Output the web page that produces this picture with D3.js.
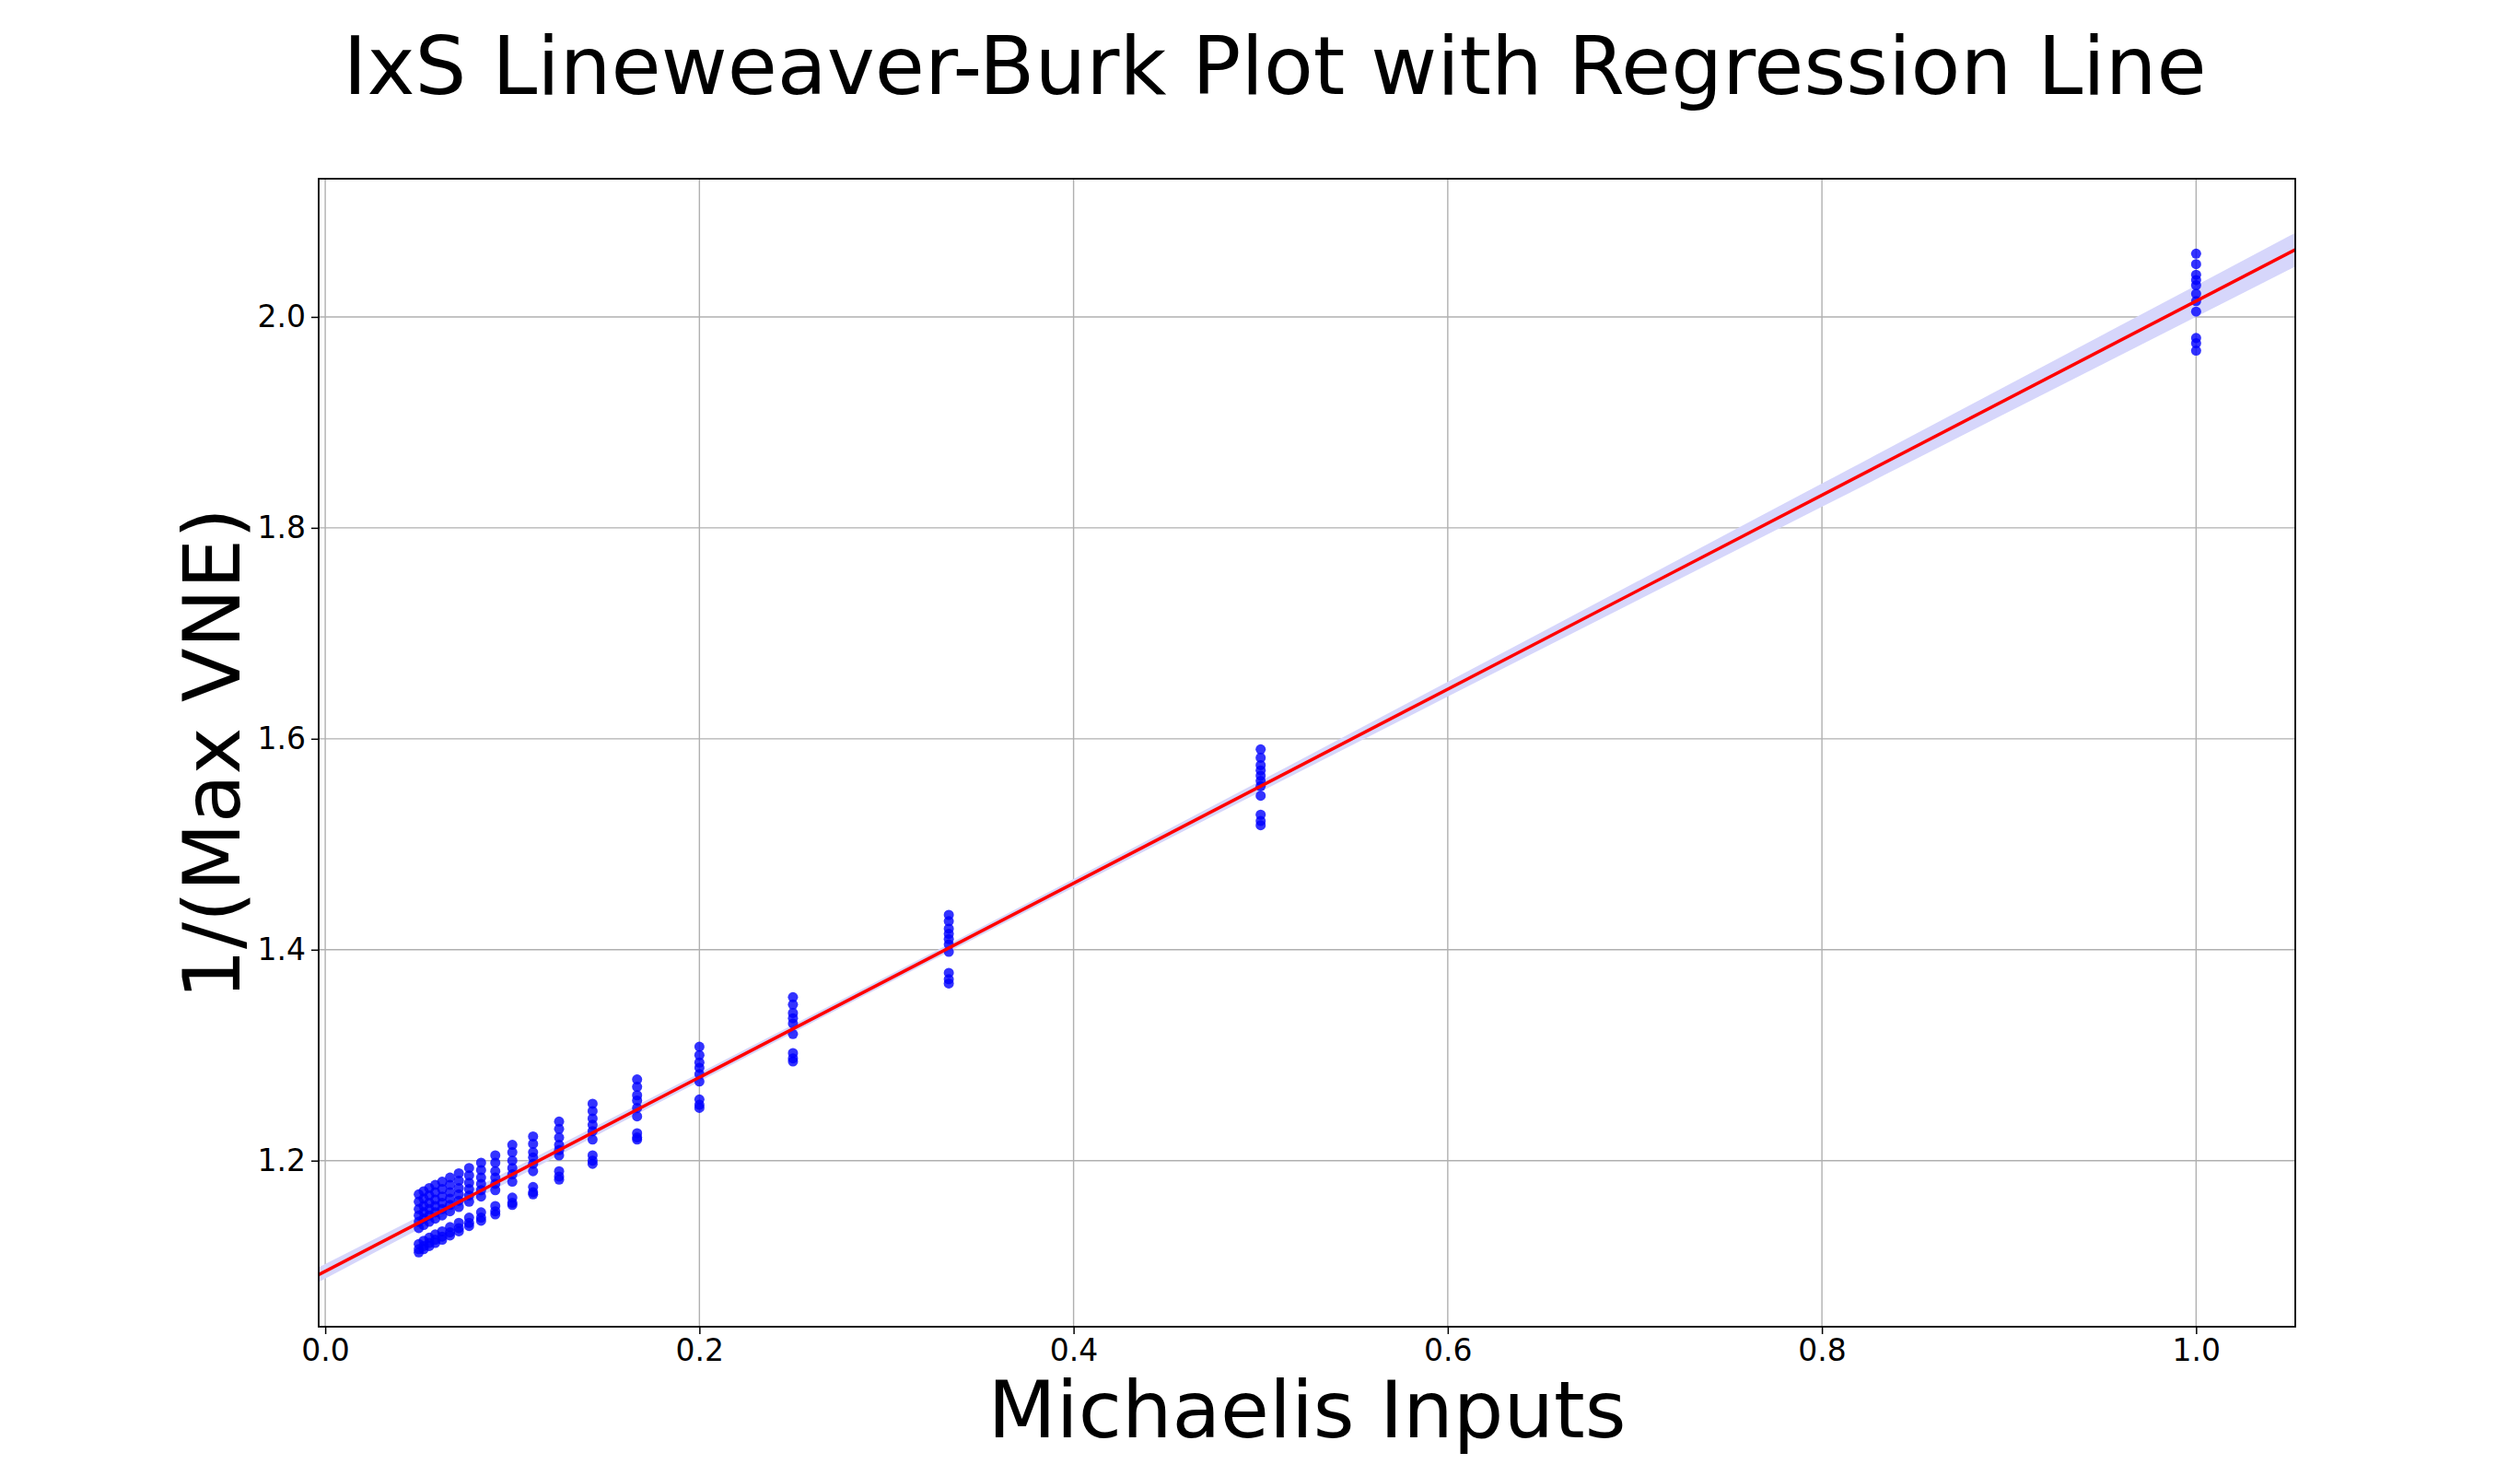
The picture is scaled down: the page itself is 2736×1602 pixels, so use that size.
<!DOCTYPE html>
<html><head><meta charset="utf-8">
<script src="https://cdn.jsdelivr.net/npm/d3@7"></script>
<style>body{margin:0;background:#fff;} text{font-family:"DejaVu Sans",sans-serif;}</style>
</head><body>
<svg id="chart" width="2736" height="1602"></svg>
<script>
// x values: 1/n for n = 1..20
var inputs= [1, 0.5, 0.3333, 0.25, 0.2, 0.1667, 0.1429, 0.125, 0.1111, 0.1, 0.0909, 0.0833, 0.0769, 0.0714, 0.0667, 0.0625, 0.0588, 0.0556, 0.0526, 0.05];
// 1/(Max VNE) observations per input
var vne= [
	[2.06, 2.05, 2.04, 2.035, 2.03, 2.022, 2.015, 2.005, 1.98, 1.975, 1.968],
	[1.59, 1.582, 1.575, 1.57, 1.565, 1.56, 1.555, 1.546, 1.528, 1.522, 1.518],
	[1.433, 1.427, 1.42, 1.415, 1.41, 1.405, 1.398, 1.378, 1.372, 1.368],
	[1.355, 1.348, 1.34, 1.335, 1.33, 1.32, 1.302, 1.297, 1.294],
	[1.308, 1.3, 1.293, 1.288, 1.282, 1.275, 1.258, 1.253, 1.25],
	[1.277, 1.27, 1.262, 1.257, 1.25, 1.242, 1.226, 1.222, 1.22],
	[1.254, 1.247, 1.24, 1.234, 1.228, 1.22, 1.205, 1.2, 1.197],
	[1.237, 1.23, 1.222, 1.215, 1.21, 1.205, 1.19, 1.185, 1.182],
	[1.223, 1.216, 1.208, 1.203, 1.197, 1.19, 1.175, 1.17, 1.168],
	[1.215, 1.208, 1.2, 1.193, 1.187, 1.18, 1.165, 1.16, 1.158],
	[1.205, 1.198, 1.19, 1.184, 1.178, 1.172, 1.157, 1.152, 1.149],
	[1.198, 1.191, 1.184, 1.178, 1.172, 1.166, 1.151, 1.146, 1.143],
	[1.193, 1.186, 1.179, 1.173, 1.167, 1.161, 1.146, 1.141, 1.138],
	[1.188, 1.181, 1.174, 1.168, 1.162, 1.156, 1.141, 1.136, 1.133],
	[1.184, 1.177, 1.17, 1.164, 1.158, 1.152, 1.137, 1.132, 1.129],
	[1.18, 1.173, 1.166, 1.16, 1.154, 1.148, 1.133, 1.128, 1.125],
	[1.177, 1.17, 1.163, 1.157, 1.151, 1.145, 1.13, 1.125, 1.122],
	[1.174, 1.167, 1.16, 1.154, 1.148, 1.142, 1.127, 1.122, 1.119],
	[1.171, 1.164, 1.157, 1.151, 1.145, 1.139, 1.124, 1.119, 1.116],
	[1.168, 1.161, 1.154, 1.148, 1.142, 1.136, 1.121, 1.116, 1.113]
];
var fit_slope= 0.92, fit_intercept= 1.095;
var band_x= [-0.004, 0.2, 0.4, 0.6, 0.8, 1.054];
var band_half= [0.007, 0.004, 0.004, 0.007, 0.011, 0.016];
var x_ticks= [0.0, 0.2, 0.4, 0.6, 0.8, 1.0];
var y_ticks= [1.2, 1.4, 1.6, 1.8, 2.0];

var plotLeft= 346, plotRight= 2492, plotTop= 194, plotBottom= 1440;
var svg= d3.select("#chart");
var xScale= d3.scaleLinear().domain([-0.0035, 1.053]).range([plotLeft, plotRight]);
var yScale= d3.scaleLinear().domain([1.0425, 2.131]).range([plotBottom, plotTop]);

svg.append("clipPath").attr("id", "clip").append("rect")
	.attr("x", plotLeft).attr("y", plotTop).attr("width", plotRight-plotLeft).attr("height", plotBottom-plotTop);

// grid
svg.append("g").selectAll("line").data(x_ticks).enter().append("line")
	.attr("x1", (d) => xScale(d)).attr("x2", (d) => xScale(d)).attr("y1", plotTop).attr("y2", plotBottom)
	.attr("stroke", "#b0b0b0").attr("stroke-width", 1.4);
svg.append("g").selectAll("line").data(y_ticks).enter().append("line")
	.attr("y1", (d) => yScale(d)).attr("y2", (d) => yScale(d)).attr("x1", plotLeft).attr("x2", plotRight)
	.attr("stroke", "#b0b0b0").attr("stroke-width", 1.4);

var plot= svg.append("g").attr("clip-path", "url(#clip)");

// confidence band
var area= d3.area()
	.x((d) => xScale(d))
	.y0((d, i) => yScale(fit_intercept+ fit_slope*d- band_half[i]))
	.y1((d, i) => yScale(fit_intercept+ fit_slope*d+ band_half[i]))
	.curve(d3.curveMonotoneX);
plot.append("path").datum(band_x).attr("d", area).attr("fill", "#d6d6fb");

// points
var points= [];
inputs.forEach((x, i) => vne[i].forEach((y) => points.push([x, y])));
plot.append("g").selectAll("circle").data(points).enter().append("circle")
	.attr("cx", (d) => xScale(d[0])).attr("cy", (d) => yScale(d[1])).attr("r", 5.5)
	.attr("fill", "#0000ff").attr("fill-opacity", 0.8);

// regression line
var line= d3.line().x((d) => xScale(d)).y((d) => yScale(fit_intercept+ fit_slope*d));
plot.append("path").datum([-0.004, 1.054]).attr("d", line)
	.attr("stroke", "#ff0000").attr("stroke-width", 3.5).attr("fill", "none");

// axes
var xAxis= svg.append("g").attr("transform", `translate(0,${plotBottom})`)
	.call(d3.axisBottom(xScale).tickValues(x_ticks).tickFormat(d3.format(".1f")).tickSize(8).tickPadding(6));
var yAxis= svg.append("g").attr("transform", `translate(${plotLeft},0)`)
	.call(d3.axisLeft(yScale).tickValues(y_ticks).tickFormat(d3.format(".1f")).tickSize(8).tickPadding(6));
[xAxis, yAxis].forEach((a) => {
	a.select(".domain").remove();
	a.selectAll(".tick line").attr("stroke", "#000").attr("stroke-width", 1.5);
	a.selectAll(".tick text").attr("font-size", 33).attr("fill", "#000").style("font-family", "DejaVu Sans");
});
svg.append("rect").attr("x", plotLeft).attr("y", plotTop).attr("width", plotRight-plotLeft).attr("height", plotBottom-plotTop)
	.attr("fill", "none").attr("stroke", "#000").attr("stroke-width", 1.8);

// labels
svg.append("text").attr("x", 1384).attr("y", 71).attr("dy", "0.35em").attr("text-anchor", "middle")
	.attr("font-size", 88).text("IxS Lineweaver-Burk Plot with Regression Line");
svg.append("text").attr("x", 1419).attr("y", 1530).attr("dy", "0.35em").attr("text-anchor", "middle")
	.attr("font-size", 86).text("Michaelis Inputs");
svg.append("text").attr("transform", "translate(230,818) rotate(-90)").attr("dy", "0.35em").attr("text-anchor", "middle")
	.attr("font-size", 86).text("1/(Max VNE)");
</script>
</body></html>
